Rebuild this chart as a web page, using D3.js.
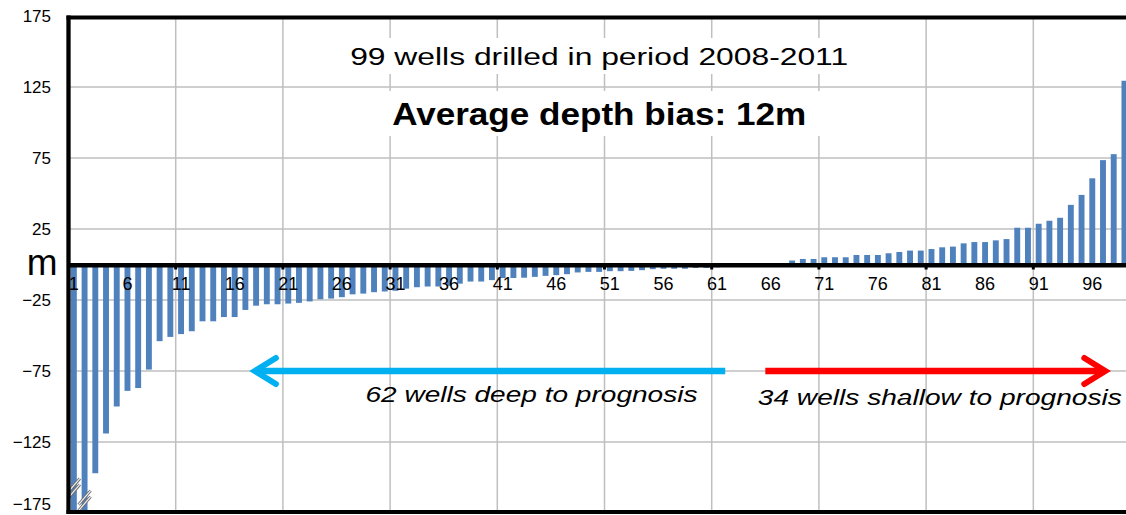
<!DOCTYPE html>
<html>
<head>
<meta charset="utf-8">
<script src="https://cdn.jsdelivr.net/npm/d3@7"></script>
<style>
  html, body { margin: 0; padding: 0; background: #fff; }
  svg { display: block; font-family: "Liberation Sans", Arial, sans-serif; }
</style>
</head>
<body>
<div id="chart"></div>
<script>
// depth bias per well (m), wells sorted from deepest to shallowest
const wells = d3.range(1, 100);
const bias = [
  -230, -195, -147, -119, -100, -89, -87, -74, -54, -51,
  -49, -47, -40, -40, -37, -37, -32, -29, -28, -28,
  -27.5, -27, -26, -24.5, -24, -23, -21, -20.5, -19.5, -19,
  -18.5, -17, -16, -15.5, -15.5, -15, -13.5, -12, -12, -11,
  -9.5, -9.5, -9.3, -8.7, -8, -7.5, -6.8, -5.6, -5.2, -5.2,
  -4.7, -4.7, -4.5, -4, -3.3, -3, -3, -3, -2.4, -2.4,
  -2, -1, 0, 0, 0, 0.5, 1, 2.8, 3.9, 3.9,
  5.1, 5.1, 5.1, 6.7, 6.7, 6.7, 7.9, 8.8, 9.8, 9.8,
  10.9, 12.1, 12.6, 14.9, 15.8, 15.8, 17, 17.9, 25.9, 25.9,
  28.7, 30.8, 32.9, 42, 49, 60.7, 73.5, 77.7, 129.4
];
const yTicks = [175, 125, 75, 25, -25, -75, -125, -175];
const xLabelWells = d3.range(1, 100, 5);
const gridWells = d3.range(11, 100, 10);
const brokenWells = [1, 2];
const title = '99 wells drilled in period 2008-2011';
const subtitle = 'Average depth bias: 12m';
const deepLabel = '62 wells deep to prognosis';
const shallowLabel = '34 wells shallow to prognosis';

const width = 1126;
const height = 515;
const plotLeft = 68.5, plotRight = 1129.8, plotTop = 16, plotBottom = 513;

const svg = d3.select('#chart').append('svg')
  .attr('width', width)
  .attr('height', height);

const x = d3.scaleBand()
  .domain(wells)
  .range([plotLeft, plotRight])
  .paddingInner(0.45)
  .paddingOuter(0.225);

// fractional well position, for the notes
const pos = d3.scaleLinear().domain([0.5, 99.5]).range([plotLeft, plotRight]);

const y = d3.scaleLinear()
  .domain([-175, 175])
  .range([plotBottom, plotTop]);

const edge = w => x(w) - x.step() * x.paddingInner() / 2;
const centre = w => x(w) + x.bandwidth() / 2;

// grid
svg.append('g').selectAll('line')
  .data(yTicks.filter(t => Math.abs(t) < 175))
  .enter().append('line')
    .attr('x1', plotLeft).attr('x2', width)
    .attr('y1', d => y(d)).attr('y2', d => y(d))
    .attr('stroke', '#bfbfbf').attr('stroke-width', 1.5);

svg.append('g').selectAll('line')
  .data(gridWells)
  .enter().append('line')
    .attr('x1', d => edge(d)).attr('x2', d => edge(d))
    .attr('y1', plotTop).attr('y2', plotBottom)
    .attr('stroke', '#bfbfbf').attr('stroke-width', 1.5);

// titles with white boxes
const titles = svg.append('g');
const midX = (plotLeft + plotRight) / 2;

function boxedText(txt, yv, size, weight, len) {
  const bg = titles.append('rect').attr('fill', '#fff');
  const t = titles.append('text')
    .attr('x', midX)
    .attr('y', y(yv))
    .attr('text-anchor', 'middle')
    .attr('font-size', size + 'px')
    .attr('font-weight', weight)
    .attr('textLength', len)
    .attr('lengthAdjust', 'spacingAndGlyphs')
    .attr('fill', '#000')
    .text(txt);
  const b = t.node().getBBox();
  bg.attr('x', b.x - 18).attr('y', b.y - 6)
    .attr('width', b.width + 36).attr('height', b.height + 10);
}

// bars
svg.append('clipPath').attr('id', 'plot')
  .append('rect')
    .attr('x', plotLeft).attr('y', plotTop)
    .attr('width', plotRight - plotLeft).attr('height', plotBottom - plotTop);

svg.append('g')
  .attr('clip-path', 'url(#plot)')
  .selectAll('rect')
  .data(bias)
  .enter().append('rect')
    .attr('x', (d, i) => x(wells[i]))
    .attr('width', x.bandwidth())
    .attr('y', d => Math.min(y(0), y(d)))
    .attr('height', d => Math.abs(y(d) - y(0)))
    .attr('fill', '#4f81bd');

// break marks on clipped bars
const breakAt = [-157.7, -166.3];
brokenWells.forEach((w, i) => {
  const cx = centre(w);
  const cy = y(breakAt[i]);
  [-3, 3].forEach(off => {
    [['#6b6b6b', 3], ['#f2f2f2', 1.2]].forEach(([c, sw]) => {
      svg.append('line')
        .attr('x1', cx - 6).attr('y1', cy + off + 7)
        .attr('x2', cx + 6).attr('y2', cy + off - 7)
        .attr('stroke', c).attr('stroke-width', sw);
    });
  });
});

// frame and zero line
svg.append('line')
  .attr('x1', plotLeft - 2).attr('x2', width)
  .attr('y1', plotTop + 1.5).attr('y2', plotTop + 1.5)
  .attr('stroke', '#000').attr('stroke-width', 4);
svg.append('line')
  .attr('x1', plotLeft - 2).attr('x2', width)
  .attr('y1', plotBottom - 1).attr('y2', plotBottom - 1)
  .attr('stroke', '#000').attr('stroke-width', 4);
svg.append('line')
  .attr('x1', plotLeft).attr('x2', plotLeft)
  .attr('y1', plotTop - 0.5).attr('y2', plotBottom + 1)
  .attr('stroke', '#000').attr('stroke-width', 4.3);
svg.append('line')
  .attr('x1', plotLeft).attr('x2', width)
  .attr('y1', y(0) + 0.8).attr('y2', y(0) + 0.8)
  .attr('stroke', '#000').attr('stroke-width', 4.4);

svg.append('g').selectAll('line')
  .data(gridWells)
  .enter().append('line')
    .attr('x1', d => edge(d)).attr('x2', d => edge(d))
    .attr('y1', y(0)).attr('y2', y(0) + 5)
    .attr('stroke', '#000').attr('stroke-width', 3);

// axes
const yAxis = svg.append('g')
  .attr('transform', `translate(${plotLeft},0)`)
  .call(d3.axisLeft(y).tickValues(yTicks).tickSize(0).tickPadding(17.5));
yAxis.select('.domain').remove();
yAxis.selectAll('text')
  .attr('font-family', '"Liberation Sans", Arial, sans-serif')
  .attr('font-size', '17px')
  .attr('fill', '#000');
// lowest label sits on the page edge; lift it just enough to stay readable
yAxis.selectAll('.tick text').filter(d => d === -175).attr('dy', '-0.2em');

const xAxis = svg.append('g')
  .attr('transform', `translate(0,${y(0)})`)
  .call(d3.axisBottom(x).tickValues(xLabelWells).tickSize(0).tickPadding(13));
xAxis.select('.domain').remove();
xAxis.selectAll('text')
  .attr('font-family', '"Liberation Sans", Arial, sans-serif')
  .attr('font-size', '18px')
  .attr('dy', '0.68em')
  .attr('fill', '#000');

svg.append('text')
  .attr('x', plotLeft - 11)
  .attr('y', y(0) + 10)
  .attr('text-anchor', 'end')
  .attr('font-size', '37px')
  .attr('fill', '#000')
  .text('m');

boxedText(title, 140.5, 23, 'normal', 498);
boxedText(subtitle, 98.2, 31, 'bold', 414);

// arrows
function arrow(from, to, colour) {
  const yy = y(-75);
  const x0 = pos(from), x1 = pos(to);
  const dir = x1 > x0 ? -1 : 1;
  svg.append('line')
    .attr('x1', x0).attr('x2', x1 + dir * 3)
    .attr('y1', yy).attr('y2', yy)
    .attr('stroke', colour).attr('stroke-width', 6.5);
  svg.append('path')
    .attr('d', `M${x1 + dir * 23},${yy - 13}L${x1 + dir * 2},${yy}L${x1 + dir * 23},${yy + 13}`)
    .attr('fill', 'none')
    .attr('stroke', colour)
    .attr('stroke-width', 6)
    .attr('stroke-linecap', 'round');
}
arrow(61.76, 17.7, '#00b0f0');
arrow(65.5, 97.4, '#ff0000');

svg.append('text')
  .attr('x', pos(28.2)).attr('y', y(-96.8))
  .attr('font-size', '22px').attr('font-style', 'italic')
  .attr('textLength', 332).attr('lengthAdjust', 'spacingAndGlyphs')
  .attr('fill', '#000')
  .text(deepLabel);

svg.append('text')
  .attr('x', pos(64.8)).attr('y', y(-99))
  .attr('font-size', '22px').attr('font-style', 'italic')
  .attr('textLength', 364).attr('lengthAdjust', 'spacingAndGlyphs')
  .attr('fill', '#000')
  .text(shallowLabel);
</script>
</body>
</html>
